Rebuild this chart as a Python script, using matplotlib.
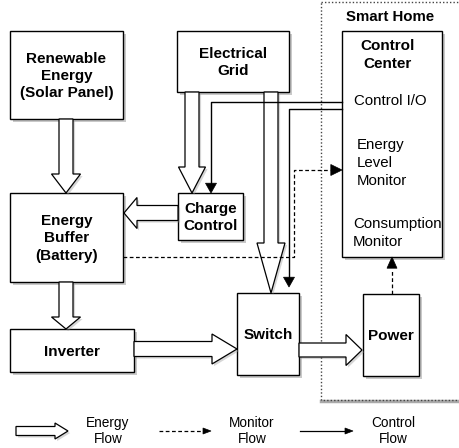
import matplotlib
matplotlib.use("Agg")
import matplotlib.pyplot as plt
from matplotlib.patches import Rectangle, Polygon
import matplotlib.patheffects as pe

plt.rcParams['font.family'] = ['Liberation Sans', 'DejaVu Sans']

# ---- content ----
box_names = ["solar", "grid", "battery", "charge", "inverter", "switch", "power", "control"]
box_labels = ["Renewable\nEnergy\n(Solar Panel)", "Electrical\nGrid", "Energy\nBuffer\n(Battery)",
              "Charge\nControl", "Inverter", "Switch", "Power", ""]
control_items = ["Control I/O", "Energy\nLevel\nMonitor", "Consumption\nMonitor"]
group_title = "Smart Home"
control_title = "Control\nCenter"
legend_labels = ["Energy\nFlow", "Monitor\nFlow", "Control\nFlow"]

# ---- layout (pixel coordinates, y down) ----
box_geom = {
    "solar": (10, 31, 123, 119),
    "grid": (177, 31, 289, 92),
    "battery": (10, 193, 123, 282),
    "charge": (178, 193, 243, 240),
    "inverter": (10, 329, 134, 372),
    "switch": (237, 293, 299, 375),
    "power": (363, 294, 419, 376),
    "control": (342, 31, 442, 257),
}

fig = plt.figure(figsize=(4.6, 4.48), dpi=100)
ax = fig.add_axes([0, 0, 1, 1])
ax.set_xlim(0, 460)
ax.set_ylim(448, 0)
ax.axis('off')

shadow = [pe.SimplePatchShadow(offset=(2, -2), shadow_rgbFace='#888888', alpha=0.45), pe.Normal()]

# Smart Home dotted group
ax.plot([321, 470], [401.5, 401.5], color='#aaaaaa', lw=2.5, zorder=0.5)
grp = Rectangle((321, 2), 160, 398, fill=False, ec='#444444', lw=1.0, ls=(0, (1, 1.5)), zorder=1)
ax.add_patch(grp)
ax.text(390, 17, group_title, ha='center', va='center', fontsize=10.8, fontweight='bold')

fs = 11
for name, label in zip(box_names, box_labels):
    x0, y0, x1, y1 = box_geom[name]
    r = Rectangle((x0, y0), x1 - x0, y1 - y0, fc='white', ec='black', lw=1.0, zorder=3,
                  path_effects=shadow)
    ax.add_patch(r)
    if label:
        ax.text((x0 + x1) / 2, (y0 + y1) / 2 + 1, label, ha='center', va='center', fontsize=fs,
                fontweight='bold', linespacing=1.3, zorder=5)

ax.text(388, 55, control_title, ha='center', va='center', fontsize=fs, fontweight='bold',
        linespacing=1.3, zorder=5)
ctrl_pos = [(354, 101), (357, 163), (353, 233)]
for (x, y), t in zip(ctrl_pos, control_items):
    ax.text(x, y, t, ha='left', va='center', fontsize=10.8, linespacing=1.35, zorder=5)


def block_arrow(points, z=4):
    p = Polygon(points, closed=True, fc='white', ec='black', lw=0.9, zorder=z,
                path_effects=[pe.SimplePatchShadow(offset=(1.5, -1.5), shadow_rgbFace='#999999', alpha=0.4), pe.Normal()])
    ax.add_patch(p)


def down_arrow(xc, y0, yh, ytip, sw, hw):
    block_arrow([(xc - sw / 2, y0), (xc + sw / 2, y0), (xc + sw / 2, yh), (xc + hw / 2, yh),
                 (xc, ytip), (xc - hw / 2, yh), (xc - sw / 2, yh)])


def horiz_arrow(yc, x0, xh, xtip, sw, hw):
    block_arrow([(x0, yc - sw / 2), (xh, yc - sw / 2), (xh, yc - hw / 2), (xtip, yc),
                 (xh, yc + hw / 2), (xh, yc + sw / 2), (x0, yc + sw / 2)])


# energy flows
down_arrow(66, 119, 174, 193, 14, 29)      # solar -> battery
down_arrow(66, 282, 317, 329, 14, 29)      # battery -> inverter
down_arrow(192, 92, 167, 193, 14, 27)      # grid -> charge
down_arrow(271, 92, 243, 293, 14, 28)      # grid -> switch
horiz_arrow(213, 178, 137, 124, 15, 31)    # charge -> battery
horiz_arrow(349, 134, 212, 237, 15, 30)    # inverter -> switch
horiz_arrow(350, 299, 346, 362, 14, 31)    # switch -> power


def head(x, y, direction, size=7, w=5):
    if direction == 'down':
        pts = [(x - w, y - size * 1.4), (x + w, y - size * 1.4), (x, y)]
    elif direction == 'up':
        pts = [(x - w, y + size * 1.4), (x + w, y + size * 1.4), (x, y)]
    else:  # right
        pts = [(x - size * 1.4, y - w), (x - size * 1.4, y + w), (x, y)]
    ax.add_patch(Polygon(pts, closed=True, fc='black', ec='black', lw=0.5, zorder=6))


# control flows
ax.plot([342, 211, 211], [102, 102, 183], color='black', lw=1.0, zorder=6)
head(211, 193, 'down', size=7, w=5.5)
ax.plot([342, 289, 289], [109, 109, 277], color='black', lw=1.0, zorder=6)
head(289, 287, 'down', size=7, w=5.5)

# monitor flows
ax.plot([123, 294, 294, 330], [257, 257, 170, 170], color='black', lw=0.9, ls=(0, (3, 2)), zorder=6)
head(342, 170, 'right', size=8, w=5.5)
ax.plot([392, 392], [294, 269], color='black', lw=0.9, ls=(0, (3, 2)), zorder=6)
head(392, 257, 'up', size=8, w=5)

# legend
horiz_arrow(431, 16, 55, 68, 9, 16)
ax.text(108, 431, legend_labels[0], ha='center', va='center', fontsize=9.8, linespacing=1.2)
ax.plot([159, 203], [431, 431], color='black', lw=0.9, ls=(0, (3, 2)))
ax.add_patch(Polygon([(203, 428), (203, 434), (211, 431)], closed=True, fc='black', ec='black', lw=0.5))
ax.text(252, 431, legend_labels[1], ha='center', va='center', fontsize=9.8, linespacing=1.2)
ax.plot([300, 345], [431, 431], color='black', lw=0.9)
ax.add_patch(Polygon([(345, 428), (345, 434), (353, 431)], closed=True, fc='black', ec='black', lw=0.5))
ax.text(393, 431, legend_labels[2], ha='center', va='center', fontsize=9.8, linespacing=1.2)

fig.savefig("out.png", dpi=100)
